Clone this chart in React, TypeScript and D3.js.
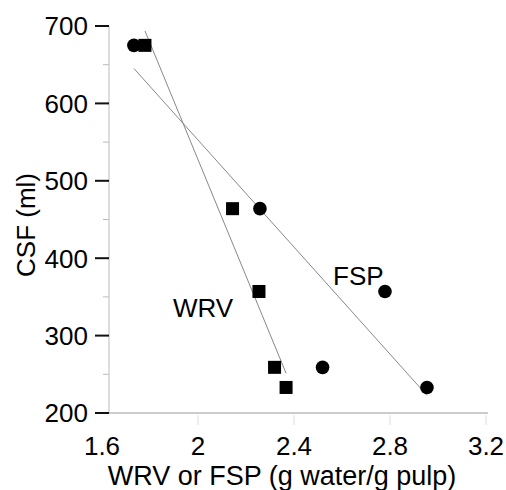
import React from "react";
import * as d3 from "d3";

const wrvX = [1.779, 2.144, 2.254, 2.319, 2.367];
const wrvY = [675, 464, 357, 259, 233];
const fspX = [1.733, 2.258, 2.519, 2.779, 2.954];
const fspY = [675, 464, 259, 357, 233];
const xTicks = [1.6, 2, 2.4, 2.8, 3.2];
const xTickLabels = ["1.6", "2", "2.4", "2.8", "3.2"];
const yTicks = [200, 300, 400, 500, 600, 700];
const yMinor = [250, 350, 450, 550, 650];

const FONT = "'Liberation Sans', Arial, Helvetica, sans-serif";

function fit(xs: number[], ys: number[]) {
  const mx = d3.mean(xs)!;
  const my = d3.mean(ys)!;
  let sxy = 0, sxx = 0;
  xs.forEach((x, i) => {
    sxy += (x - mx) * (ys[i] - my);
    sxx += (x - mx) * (x - mx);
  });
  const b = sxy / sxx;
  const a = my - b * mx;
  const [x0, x1] = d3.extent(xs) as [number, number];
  return [
    [x0, a + b * x0],
    [x1, a + b * x1],
  ];
}

export default function App() {
  const x = d3.scaleLinear().domain([1.6, 3.2]).range([102, 486]);
  const y = d3.scaleLinear().domain([200, 700]).range([413, 26]);
  const axisX = 109;
  const line = d3
    .line<number[]>()
    .x((d) => x(d[0]))
    .y((d) => y(d[1]));
  const wrvFit = fit(wrvX, wrvY);
  const fspFit = fit(fspX, fspY);
  const sq = 13;
  return (
    <svg
      width={506}
      height={490}
      style={{ position: "absolute", left: 0, top: 0, background: "#fff" }}
      fontFamily={FONT}
    >
      {/* axes */}
      <line x1={axisX} x2={axisX} y1={y(700)} y2={y(200)} stroke="#bbb" strokeWidth={1} />
      <line x1={axisX} x2={488} y1={y(200)} y2={y(200)} stroke="#999" strokeWidth={1.2} />
      {yTicks.map((t) => (
        <g key={t}>
          <line x1={95} x2={axisX} y1={y(t)} y2={y(t)} stroke="#111" strokeWidth={2} />
          <text x={88} y={y(t)} dy="0.36em" textAnchor="end" fontSize={26} fill="#000">
            {t}
          </text>
        </g>
      ))}
      {yMinor.map((t) => (
        <line key={t} x1={103} x2={axisX} y1={y(t)} y2={y(t)} stroke="#bbb" strokeWidth={1} />
      ))}
      {xTicks.map((t, i) => (
        <g key={t}>
          {i > 0 && (
            <line x1={x(t)} x2={x(t)} y1={y(200) + 2} y2={y(200) + 12} stroke="#ddd" strokeWidth={1} />
          )}
          <text x={x(t)} y={455} textAnchor="middle" fontSize={26} fill="#000">
            {xTickLabels[i]}
          </text>
        </g>
      ))}
      {/* axis titles */}
      <text x={282} y={485} textAnchor="middle" fontSize={27} fill="#000">
        WRV or FSP (g water/g pulp)
      </text>
      <text
        transform={`translate(35,225) rotate(-90)`}
        textAnchor="middle"
        fontSize={26}
        fill="#000"
      >
        CSF (ml)
      </text>
      {/* regression lines */}
      <path d={line(wrvFit)!} fill="none" stroke="#888" strokeWidth={1} />
      <path d={line(fspFit)!} fill="none" stroke="#888" strokeWidth={1} />
      {/* points */}
      {fspX.map((v, i) => (
        <circle key={"c" + i} cx={x(v)} cy={y(fspY[i])} r={6.8} fill="#000" />
      ))}
      {wrvX.map((v, i) => (
        <rect key={"s" + i} x={x(v) - sq / 2} y={y(wrvY[i]) - sq / 2} width={sq} height={sq} fill="#000" />
      ))}
      {/* series labels */}
      <text x={173} y={317} fontSize={26} fill="#000">
        WRV
      </text>
      <text x={333} y={285} fontSize={26} fill="#000">
        FSP
      </text>
    </svg>
  );
}
